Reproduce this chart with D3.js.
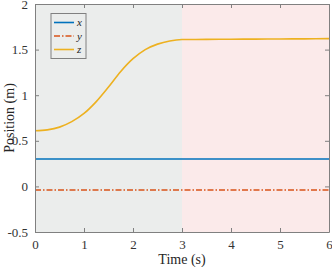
<!DOCTYPE html>
<html>
<head>
<meta charset="utf-8">
<script src="https://cdn.jsdelivr.net/npm/d3@7"></script>
<style>
  body { margin: 0; background: #fff; }
  svg text { font-family: "Times New Roman", "Liberation Serif", Times, serif; }
</style>
</head>
<body>
<script>
var w = 332, h = 267;
var margin = {top: 4, right: 3, bottom: 35, left: 35};

// data
var time = [0, 0.25, 0.5, 0.75, 1, 1.25, 1.5, 1.75, 2, 2.25, 2.5, 2.75, 3, 3.5, 4, 4.5, 5, 5.5, 6];
var xPos = [0.3, 0.3, 0.3, 0.3, 0.3, 0.3, 0.3, 0.3, 0.3, 0.3, 0.3, 0.3, 0.3, 0.3, 0.3, 0.3, 0.3, 0.3, 0.3];
var yPos = [-0.04, -0.04, -0.04, -0.04, -0.04, -0.04, -0.04, -0.04, -0.04, -0.04, -0.04, -0.04, -0.04, -0.04, -0.04, -0.04, -0.04, -0.04, -0.04];
var zPos = [0.61, 0.62, 0.65, 0.71, 0.80, 0.93, 1.09, 1.26, 1.40, 1.50, 1.56, 1.595, 1.61, 1.612, 1.614, 1.615, 1.617, 1.618, 1.62];
var phases = [[0, 3], [3, 6]];
var phaseColors = ["#ebedec", "#fbeaea"];
var seriesNames = ["x", "y", "z"];
var xTicks = [0, 1, 2, 3, 4, 5, 6];
var yTicks = [-0.5, 0, 0.5, 1, 1.5, 2];

var series = [
  {name: "x", values: xPos, color: "#0072bd", dash: null},
  {name: "y", values: yPos, color: "#d95319", dash: "6,2,1.5,2"},
  {name: "z", values: zPos, color: "#edb120", dash: null}
];

var iw = w - margin.left - margin.right;
var ih = h - margin.top - margin.bottom;

var svg = d3.select("body").append("svg")
  .attr("width", w)
  .attr("height", h);

var g = svg.append("g")
  .attr("transform", "translate(" + margin.left + "," + margin.top + ")");

var x = d3.scaleLinear().domain([0, 6]).range([0, iw]);
var y = d3.scaleLinear().domain([-0.5, 2]).range([ih, 0]);

// shaded phases
g.selectAll("rect.phase")
  .data(phases)
  .enter().append("rect")
  .attr("class", "phase")
  .attr("x", function(d) { return x(d[0]); })
  .attr("y", 0)
  .attr("width", function(d) { return x(d[1]) - x(d[0]); })
  .attr("height", ih)
  .attr("fill", function(d, i) { return phaseColors[i]; });

// lines
var line = d3.line()
  .x(function(d, i) { return x(time[i]); })
  .y(function(d) { return y(d); })
  .curve(d3.curveMonotoneX);

g.selectAll("path.series")
  .data(series)
  .enter().append("path")
  .attr("class", "series")
  .attr("d", function(d) { return line(d.values); })
  .attr("fill", "none")
  .attr("stroke", function(d) { return d.color; })
  .attr("stroke-width", 1.6)
  .attr("stroke-dasharray", function(d) { return d.dash; });

// axes, matlab style (ticks inside, box all round)
var axisColor = "#808080";
function styleAxis(sel) {
  sel.attr("font-family", null).attr("font-size", null);
  sel.select(".domain").attr("stroke", axisColor);
  sel.selectAll(".tick line").attr("stroke", axisColor);
  sel.selectAll(".tick text")
    .attr("fill", "#333")
    .attr("font-size", "13px");
}

var fmt = function(d) { return String(d); };

g.append("g")
  .attr("transform", "translate(0," + ih + ")")
  .call(d3.axisBottom(x).tickValues(xTicks).tickSize(-4).tickPadding(8).tickSizeOuter(0).tickFormat(fmt))
  .call(styleAxis);

g.append("g")
  .call(d3.axisLeft(y).tickValues(yTicks).tickSize(-4).tickPadding(7).tickSizeOuter(0).tickFormat(fmt))
  .call(styleAxis);

g.append("g")
  .call(d3.axisTop(x).tickValues(xTicks).tickSize(-4).tickFormat("").tickSizeOuter(0))
  .call(styleAxis);

g.append("g")
  .attr("transform", "translate(" + iw + ",0)")
  .call(d3.axisRight(y).tickValues(yTicks).tickSize(-4).tickFormat("").tickSizeOuter(0))
  .call(styleAxis);

// axis labels
svg.append("text")
  .attr("x", margin.left + iw / 2)
  .attr("y", h - 3)
  .attr("text-anchor", "middle")
  .attr("font-size", "14px")
  .attr("fill", "#262626")
  .text("Time (s)");

svg.append("text")
  .attr("transform", "translate(14," + (margin.top + ih / 2) + ") rotate(-90)")
  .attr("text-anchor", "middle")
  .attr("font-size", "14px")
  .attr("fill", "#262626")
  .text("Position (m)");

// legend
var lg = g.append("g").attr("transform", "translate(16,9.5)");
lg.append("rect")
  .attr("width", 35)
  .attr("height", 45)
  .attr("fill", "#ebedec")
  .attr("stroke", "#808080")
  .attr("stroke-width", 1);

var items = lg.selectAll("g.item")
  .data(series)
  .enter().append("g")
  .attr("class", "item")
  .attr("transform", function(d, i) { return "translate(0," + (9 + i * 13.5) + ")"; });

items.append("line")
  .attr("x1", 3).attr("x2", 23)
  .attr("stroke", function(d) { return d.color; })
  .attr("stroke-width", 1.6)
  .attr("stroke-dasharray", function(d) { return d.dash; });

items.append("text")
  .attr("x", 26)
  .attr("y", 3.5)
  .attr("font-size", "11px")
  .attr("font-style", "italic")
  .attr("fill", "#262626")
  .text(function(d, i) { return seriesNames[i]; });
</script>
</body>
</html>
